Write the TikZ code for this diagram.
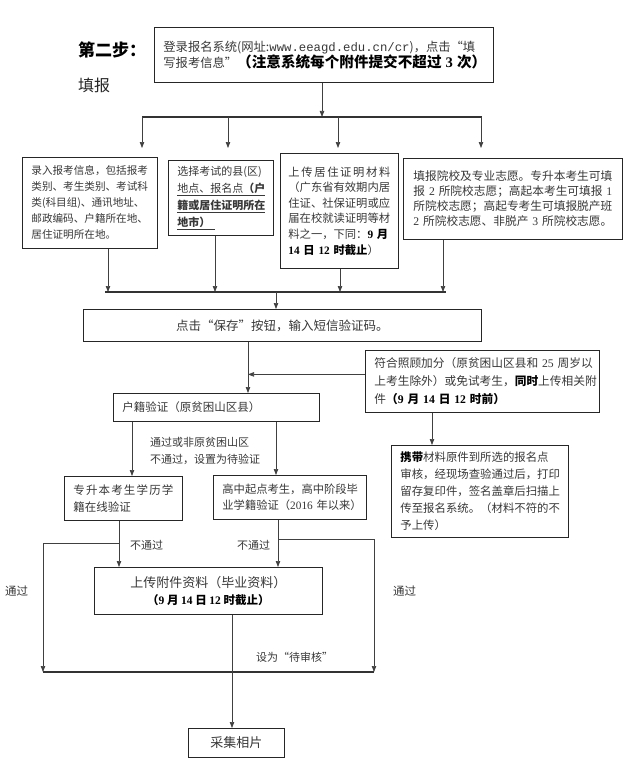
\documentclass[tikz,border=0pt]{standalone}
\usepackage{fontspec}
\setmainfont{Noto Sans CJK SC}
\newfontfamily\tnr{Liberation Serif}
\newfontfamily\mono{Liberation Mono}
\usetikzlibrary{arrows.meta}
\definecolor{txt}{gray}{0.22}
\newcommand\dig[1]{{\tnr #1}}
\newcommand\fs[2]{\fontsize{#1}{#2}\selectfont}
\begin{document}
\begin{tikzpicture}[x=1pt,y=-1pt,
 box/.style={draw=black!85, line width=0.8pt, inner xsep=9pt, inner ysep=0pt, anchor=north west, align=left, text=txt},
 cbox/.style={draw=black!85, line width=0.8pt, inner sep=0pt, anchor=north west, align=center, text=txt},
 ln/.style={draw=black!75, line width=0.7pt},
 bar/.style={draw=black!80, line width=1.1pt},
 arr/.style={ln, -{Triangle[length=6pt,width=4.4pt]}},
 lbl/.style={text=txt, inner sep=0pt, anchor=west}]
\fill[white] (0,0) rectangle (634,773);
\useasboundingbox (0,0) rectangle (634,773);

\node[lbl, text=black, font=\fs{17}{20}\bfseries] (t1) at (78,50) {第二步：};
\node[lbl, text=black!85, font=\fs{16}{20}] (t2) at (78,85) {填报};

\node[box, minimum width=339pt, minimum height=55pt, text width=321pt, font=\fs{12.3}{16}] (top) at (154,27)
 {登录报名系统(网址:{\mono\fs{12.3}{16}www.eeagd.edu.cn/cr})，点击“填\\写报考信息”{\color{black}\bfseries\fs{14.6}{16}（注意系统每个附件提交不超过~\dig{3}~次）}};

\node[box, minimum width=135pt, minimum height=91pt, text width=117pt, font=\fs{10.6}{16}] (b1) at (22,157)
 {录入报考信息，包括报考\\类别、考生类别、考试科\\类(科目组)、通讯地址、\\邮政编码、户籍所在地、\\居住证明所在地。};
\node[box, minimum width=105pt, minimum height=75pt, text width=87pt, font=\fs{11}{17}] (b2) at (168,160)
 {选择考试的县(区)\\\underline{地点、报名点\textbf{（户}}\\\underline{\textbf{籍或居住证明所在}}\\\underline{\textbf{地市）}\hspace{5pt}}};
\node[box, inner xsep=8pt, minimum width=118pt, minimum height=115pt, text width=102pt, font=\fs{11.3}{15.6}] (b3) at (280,153)
 {\makebox[102pt][s]{上\hfil 传\hfil 居\hfil 住\hfil 证\hfil 明\hfil 材\hfil 料}\\（广东省有效期内居\\住证、社保证明或应\\届在校就读证明等材\\料之一，下同：{\color{black}\bfseries\dig{9}~月}\\{\color{black}\bfseries\dig{14}~日~\dig{12}~时截止}）};
\node[box, inner xsep=10pt, minimum width=219pt, minimum height=81pt, text width=199pt, font=\fs{11.7}{15}] (b4) at (403,158)
 {填报院校及专业志愿。专升本考生可填\\报~\dig{2}~所院校志愿；高起本考生可填报~\dig{1}\\所院校志愿；高起专考生可填报脱产班\\\dig{2}~所院校志愿、非脱产~\dig{3}~所院校志愿。};

\node[cbox, minimum width=398pt, minimum height=32pt, font=\fs{12.5}{16}] (save) at (83,309) {点击“保存”按钮，输入短信验证码。};

\node[box, minimum width=234pt, minimum height=62pt, text width=216pt, font=\fs{11.7}{18}] (fh) at (365,350)
 {符合照顾加分（原贫困山区县和~\dig{25}~周岁以\\上考生除外）或免试考生，{\color{black}\bfseries 同时}上传相关附\\件{\color{black}\bfseries（\dig{9}~月~\dig{14}~日~\dig{12}~时前）}};

\node[box, minimum width=206pt, minimum height=28pt, text width=188pt, font=\fs{11.5}{16}] (hj) at (113,393) {户籍验证（原贫困山区县）};

\node[box, minimum width=118pt, minimum height=44pt, text width=100pt, font=\fs{11.5}{17}] (zsb) at (64,476)
 {\makebox[100pt][s]{专\hfil 升\hfil 本\hfil 考\hfil 生\hfil 学\hfil 历\hfil 学}\\籍在线验证};
\node[box, minimum width=153pt, minimum height=44pt, text width=135pt, font=\fs{11.3}{16}] (gz) at (213,475)
 {高中起点考生，高中阶段毕\\业学籍验证（\dig{2016}~年以来）};
\node[box, minimum width=177pt, minimum height=92pt, text width=159pt, font=\fs{11.4}{17}] (xd) at (391,445)
 {{\color{black}\bfseries 携带}材料原件到所选的报名点\\审核，经现场查验通过后，打印\\留存复印件，签名盖章后扫描上\\传至报名系统。（材料不符的不\\予上传）};

\node[cbox, minimum width=228pt, minimum height=47pt, font=\fs{13}{16.5}] (up) at (94,567)
 {上传附件资料（毕业资料）\\{\color{black}\bfseries\fs{11.5}{16.5}（\dig{9}~月~\dig{14}~日~\dig{12}~时截止）}};
\node[cbox, minimum width=96pt, minimum height=29pt, font=\fs{13}{16}] (cj) at (188,728) {采集相片};

\node[lbl, font=\fs{11}{14}] (l1) at (150,442) {通过或非原贫困山区};
\node[lbl, font=\fs{11}{14}] (l2) at (150,459) {不通过，设置为待验证};
\node[lbl, font=\fs{11}{14}] (l3) at (130,545) {不通过};
\node[lbl, font=\fs{11}{14}] (l4) at (237,545) {不通过};
\node[lbl, font=\fs{11.5}{14}] (l5) at (5,591) {通过};
\node[lbl, font=\fs{11.5}{14}] (l6) at (393,591) {通过};
\node[lbl, font=\fs{11}{14}] (l7) at (256,657) {设为“待审核”};

% coordinates
\coordinate (a0) at (322,117);
\coordinate (a1) at (142,117); \coordinate (a2) at (228,117);
\coordinate (a3) at (338,117); \coordinate (a4) at (481,117);
\coordinate (ae) at (482,117);
\coordinate (tip) at (0,148);
\coordinate (c1) at (108,292); \coordinate (c2) at (215,292);
\coordinate (c3) at (340,292); \coordinate (c4) at (443,292);
\coordinate (cs) at (105,292); \coordinate (ce) at (446,292);
\coordinate (c5) at (276,292);
\coordinate (v1) at (248,0); \coordinate (v2) at (432,0);
\coordinate (v3) at (132,0); \coordinate (v4) at (276,0);
\coordinate (v5) at (119,0); \coordinate (v6) at (278,0);
\coordinate (v7) at (232,0);
\coordinate (L1) at (43,543); \coordinate (R1) at (374,539);
\coordinate (bot) at (0,672);

\draw[arr] (top.south -| a0) -- (a0);
\draw[bar] (a1) -- (ae);
\foreach \p in {a1,a2,a3,a4} \draw[arr] (\p) -- (\p |- tip);

\draw[arr] (b1.south -| c1) -- (c1);
\draw[arr] (b2.south -| c2) -- (c2);
\draw[arr] (b3.south -| c3) -- (c3);
\draw[arr] (b4.south -| c4) -- (c4);
\draw[bar] (cs) -- (ce);
\draw[arr] (c5) -- (save.north -| c5);

\draw[arr] (save.south -| v1) -- (hj.north -| v1);
\draw[arr] ([yshift=7pt]fh.west) -- ([yshift=7pt]fh.west -| v1);
\draw[arr] (fh.south -| v2) -- (xd.north -| v2);

\draw[arr] (hj.south -| v3) -- (zsb.north -| v3);
\draw[arr] (hj.south -| v4) -- (gz.north -| v4);

\draw[arr] (zsb.south -| v5) -- (up.north -| v5);
\draw[arr] (gz.south -| v6) -- (up.north -| v6);

\draw[arr] (v5 |- L1) -- (L1) -- (L1 |- bot);
\draw[arr] (v6 |- R1) -- (R1) -- (R1 |- bot);
\draw[bar] (L1 |- bot) -- (R1 |- bot);
\draw[arr] (up.south -| v7) -- (cj.north -| v7);
\end{tikzpicture}
\end{document}
